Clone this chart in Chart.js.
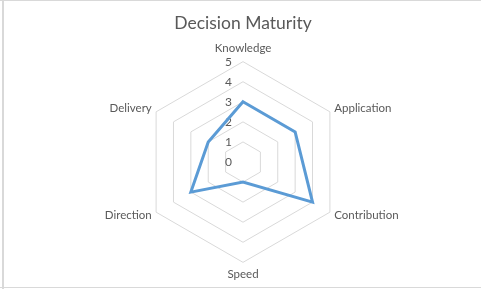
<!DOCTYPE html>
<html>
<head>
<meta charset="utf-8">
<script src="https://cdn.jsdelivr.net/npm/chart.js@4"></script>
<style>
  html, body { margin: 0; padding: 0; background: #fff; }
  #wrap { position: relative; width: 481px; height: 289px; overflow: hidden; }
  #wrap canvas { position: absolute; left: 0; top: 0; }
  .edge { position: absolute; background: #d9d9d9; }
</style>
</head>
<body>
<div id="wrap">
  <canvas id="radar" width="481" height="289"></canvas>
  <div class="edge" style="left:0;top:0;width:481px;height:1px"></div>
  <div class="edge" style="left:2px;top:0;width:2px;height:289px"></div>
  <div class="edge" style="left:0;top:287px;width:481px;height:1px"></div>
</div>
<script>
const categories = ['Knowledge', 'Application', 'Contribution', 'Speed', 'Direction', 'Delivery'];
const maturity = [3, 3, 4, 1, 3, 2];
const tickValues = [0, 1, 2, 3, 4, 5];

const grey = '#595959';

// Excel puts the scale numbers just left of the vertical axis, "0" included
const tickLabels = {
    id: 'tickLabels',
    beforeDatasetsDraw(chart) {
        const r = chart.scales.r;
        const ctx = chart.ctx;
        ctx.save();
        ctx.font = '12px Lato';
        ctx.fillStyle = grey;
        ctx.textAlign = 'right';
        ctx.textBaseline = 'middle';
        tickValues.forEach(v => {
            const d = r.getDistanceFromCenterForValue(v);
            ctx.fillText(String(v), r.xCenter - 11, r.yCenter - d + 0.5);
        });
        ctx.restore();
    }
};

new Chart(document.getElementById('radar'), {
    type: 'radar',
    data: {
        labels: categories,
        datasets: [{
            label: 'Maturity',
            data: maturity,
            borderColor: '#5b9bd5',
            borderWidth: 3,
            fill: false,
            pointRadius: 0,
            pointHoverRadius: 0,
            tension: 0
        }]
    },
    options: {
        responsive: false,
        animation: false,
        devicePixelRatio: 1,
        layout: { padding: { top: 0, left: 43, right: 38, bottom: 13 } },
        scales: {
            r: {
                min: 0,
                max: 5,
                ticks: { stepSize: 1, display: false },
                grid: { color: '#d9d9d9', lineWidth: 1 },
                angleLines: { display: false },
                pointLabels: {
                    color: grey,
                    font: { family: 'Lato', size: 11.5, lineHeight: 0.1 },
                    padding: c => c.index === 0 ? 12.5 : (c.index === 3 ? 11.5 : 5)
                }
            }
        },
        plugins: {
            legend: { display: false },
            tooltip: { enabled: false },
            title: {
                display: true,
                text: 'Decision Maturity',
                color: grey,
                font: { family: 'Lato', size: 17.5, weight: 'normal', lineHeight: 1.2 },
                padding: { top: 12.8, bottom: 14.2 }
            }
        }
    },
    plugins: [tickLabels]
});
</script>
</body>
</html>
